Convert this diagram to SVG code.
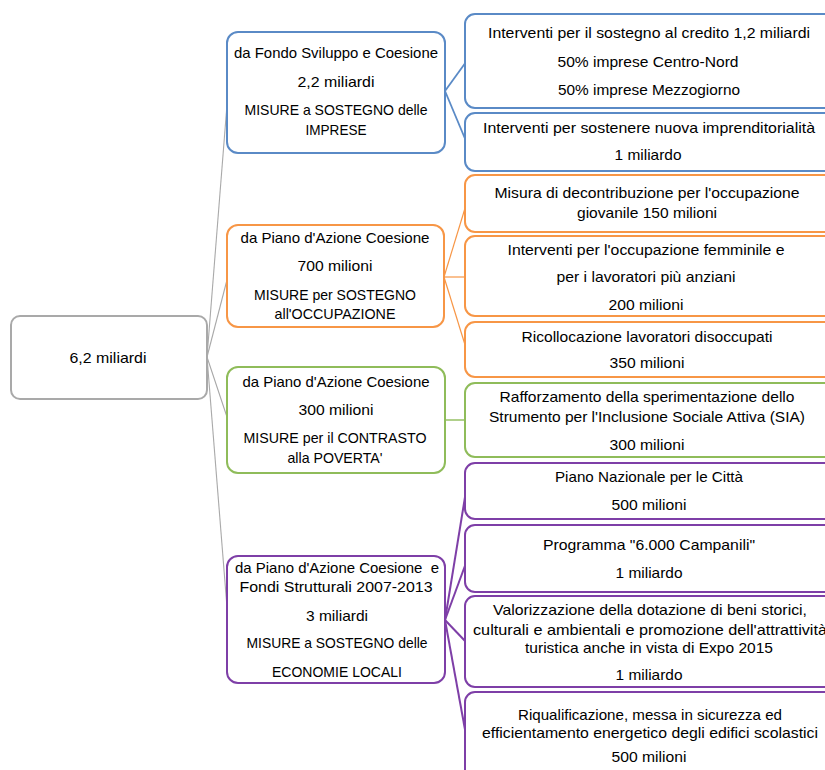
<svg xmlns="http://www.w3.org/2000/svg" width="825" height="770" viewBox="0 0 825 770">
<style>
text{font-family:"Liberation Sans",Arial,sans-serif;font-size:14.5px;fill:#000;text-anchor:middle}
.box{fill:#fff;stroke-width:2}
.g{stroke:#a9a9a9}.b{stroke:#5a8ac6}.o{stroke:#f79646}.gr{stroke:#8fbc5a}.p{stroke:#7e3fa7}
.c line{fill:none}
</style>
<rect width="825" height="770" fill="#fff"/>
<g id="connectors" class="c">
<g stroke="#a9a9a9" stroke-width="1.1">
<line x1="207" y1="357" x2="228" y2="92"/>
<line x1="207" y1="357" x2="228" y2="276"/>
<line x1="207" y1="357" x2="228" y2="420"/>
<line x1="207" y1="357" x2="228" y2="620"/>
</g>
<g stroke="#5a8ac6" stroke-width="1.8">
<line x1="445" y1="91" x2="466" y2="62"/>
<line x1="445" y1="91" x2="466" y2="141"/>
</g>
<g stroke="#f79646" stroke-width="1.2">
<line x1="444" y1="277" x2="466" y2="205"/>
<line x1="444" y1="277" x2="466" y2="277"/>
<line x1="444" y1="277" x2="466" y2="348"/>
</g>
<g stroke="#8fbc5a" stroke-width="1.4">
<line x1="445" y1="420" x2="466" y2="420"/>
</g>
<g stroke="#7e3fa7" stroke-width="2">
<line x1="445" y1="620" x2="466" y2="491"/>
<line x1="445" y1="620" x2="466" y2="563"/>
<line x1="445" y1="620" x2="466" y2="642"/>
<line x1="445" y1="620" x2="466" y2="735"/>
</g>
</g>

<g id="root">
<rect class="box g" x="11" y="316" width="196" height="83" rx="9"/>
<text x="108" y="363" textLength="77" lengthAdjust="spacingAndGlyphs">6,2 miliardi</text>
</g>

<g id="fsc">
<rect class="box b" x="227" y="32" width="218" height="121" rx="11"/>
<text x="336" y="58" textLength="204" lengthAdjust="spacingAndGlyphs">da Fondo Sviluppo e Coesione</text>
<text x="336" y="87" textLength="77" lengthAdjust="spacingAndGlyphs">2,2 miliardi</text>
<text x="336" y="115" textLength="183" lengthAdjust="spacingAndGlyphs">MISURE a SOSTEGNO delle</text>
<text x="336" y="135" textLength="61" lengthAdjust="spacingAndGlyphs">IMPRESE</text>
</g>

<g id="pac700">
<rect class="box o" x="227" y="225" width="217" height="102" rx="11"/>
<text x="335" y="243" textLength="189" lengthAdjust="spacingAndGlyphs">da Piano d'Azione Coesione</text>
<text x="335" y="271" textLength="75" lengthAdjust="spacingAndGlyphs">700 milioni</text>
<text x="335" y="300" textLength="162" lengthAdjust="spacingAndGlyphs">MISURE per SOSTEGNO</text>
<text x="335" y="319" textLength="121" lengthAdjust="spacingAndGlyphs">all'OCCUPAZIONE</text>
</g>

<g id="pac300">
<rect class="box gr" x="227" y="367" width="218" height="106" rx="11"/>
<text x="336" y="387" textLength="187" lengthAdjust="spacingAndGlyphs">da Piano d'Azione Coesione</text>
<text x="336" y="415" textLength="75" lengthAdjust="spacingAndGlyphs">300 milioni</text>
<text x="335" y="443" textLength="183" lengthAdjust="spacingAndGlyphs">MISURE per il CONTRASTO</text>
<text x="335" y="463" textLength="95" lengthAdjust="spacingAndGlyphs">alla POVERTA'</text>
</g>

<g id="pac3mld">
<rect class="box p" x="227" y="556" width="218" height="127" rx="11"/>
<text x="337" y="573" textLength="204" lengthAdjust="spacingAndGlyphs" xml:space="preserve">da Piano d'Azione Coesione  e</text>
<text x="336" y="592" textLength="193" lengthAdjust="spacingAndGlyphs">Fondi Strutturali 2007-2013</text>
<text x="337" y="621" textLength="62" lengthAdjust="spacingAndGlyphs">3 miliardi</text>
<text x="337" y="648" textLength="181" lengthAdjust="spacingAndGlyphs">MISURE a SOSTEGNO delle</text>
<text x="337" y="677" textLength="130" lengthAdjust="spacingAndGlyphs">ECONOMIE LOCALI</text>
</g>

<g id="credito">
<rect class="box b" x="465" y="14" width="380" height="94" rx="10"/>
<text x="649" y="38" textLength="322" lengthAdjust="spacingAndGlyphs">Interventi per il sostegno al credito 1,2 miliardi</text>
<text x="648" y="67" textLength="181" lengthAdjust="spacingAndGlyphs">50% imprese Centro-Nord</text>
<text x="649" y="95" textLength="182" lengthAdjust="spacingAndGlyphs">50% imprese Mezzogiorno</text>
</g>

<g id="imprenditorialita">
<rect class="box b" x="465" y="113" width="380" height="58" rx="10"/>
<text x="649" y="133" textLength="332" lengthAdjust="spacingAndGlyphs">Interventi per sostenere nuova imprenditorialità</text>
<text x="648" y="160" textLength="67" lengthAdjust="spacingAndGlyphs">1 miliardo</text>
</g>

<g id="decontribuzione">
<rect class="box o" x="465" y="175" width="380" height="57" rx="10"/>
<text x="647" y="198" textLength="305" lengthAdjust="spacingAndGlyphs">Misura di decontribuzione per l'occupazione</text>
<text x="647" y="218" textLength="140" lengthAdjust="spacingAndGlyphs">giovanile 150 milioni</text>
</g>

<g id="femminile">
<rect class="box o" x="465" y="236" width="380" height="80" rx="10"/>
<text x="646" y="255" textLength="277" lengthAdjust="spacingAndGlyphs">Interventi per l'occupazione femminile e</text>
<text x="646" y="282" textLength="179" lengthAdjust="spacingAndGlyphs">per i lavoratori più anziani</text>
<text x="646" y="310" textLength="75" lengthAdjust="spacingAndGlyphs">200 milioni</text>
</g>

<g id="ricollocazione">
<rect class="box o" x="465" y="322" width="380" height="55" rx="10"/>
<text x="647" y="342" textLength="251" lengthAdjust="spacingAndGlyphs">Ricollocazione lavoratori disoccupati</text>
<text x="647" y="368" textLength="75" lengthAdjust="spacingAndGlyphs">350 milioni</text>
</g>

<g id="sia">
<rect class="box gr" x="465" y="383" width="380" height="74" rx="10"/>
<text x="647" y="402" textLength="295" lengthAdjust="spacingAndGlyphs">Rafforzamento della sperimentazione dello</text>
<text x="647" y="422" textLength="316" lengthAdjust="spacingAndGlyphs">Strumento per l'Inclusione Sociale Attiva (SIA)</text>
<text x="647" y="450" textLength="75" lengthAdjust="spacingAndGlyphs">300 milioni</text>
</g>

<g id="citta">
<rect class="box p" x="465" y="463" width="380" height="56" rx="10"/>
<text x="649" y="482" textLength="188" lengthAdjust="spacingAndGlyphs">Piano Nazionale per le Città</text>
<text x="649" y="510" textLength="75" lengthAdjust="spacingAndGlyphs">500 milioni</text>
</g>

<g id="campanili">
<rect class="box p" x="465" y="525" width="380" height="67" rx="10"/>
<text x="649" y="550" textLength="212" lengthAdjust="spacingAndGlyphs">Programma "6.000 Campanili"</text>
<text x="649" y="578" textLength="67" lengthAdjust="spacingAndGlyphs">1 miliardo</text>
</g>

<g id="beni">
<rect class="box p" x="465" y="596" width="380" height="91" rx="10"/>
<text x="650" y="615" textLength="314" lengthAdjust="spacingAndGlyphs">Valorizzazione della dotazione di beni storici,</text>
<text x="650" y="635" textLength="354" lengthAdjust="spacingAndGlyphs">culturali e ambientali e promozione dell'attrattività</text>
<text x="649" y="653" textLength="248" lengthAdjust="spacingAndGlyphs">turistica anche in vista di Expo 2015</text>
<text x="649" y="680" textLength="67" lengthAdjust="spacingAndGlyphs">1 miliardo</text>
</g>

<g id="scuole">
<rect class="box p" x="465" y="692" width="380" height="100" rx="10"/>
<text x="650" y="720" textLength="264" lengthAdjust="spacingAndGlyphs">Riqualificazione, messa in sicurezza ed</text>
<text x="650" y="738" textLength="336" lengthAdjust="spacingAndGlyphs">efficientamento energetico degli edifici scolastici</text>
<text x="649" y="762" textLength="75" lengthAdjust="spacingAndGlyphs">500 milioni</text>
</g>
</svg>
